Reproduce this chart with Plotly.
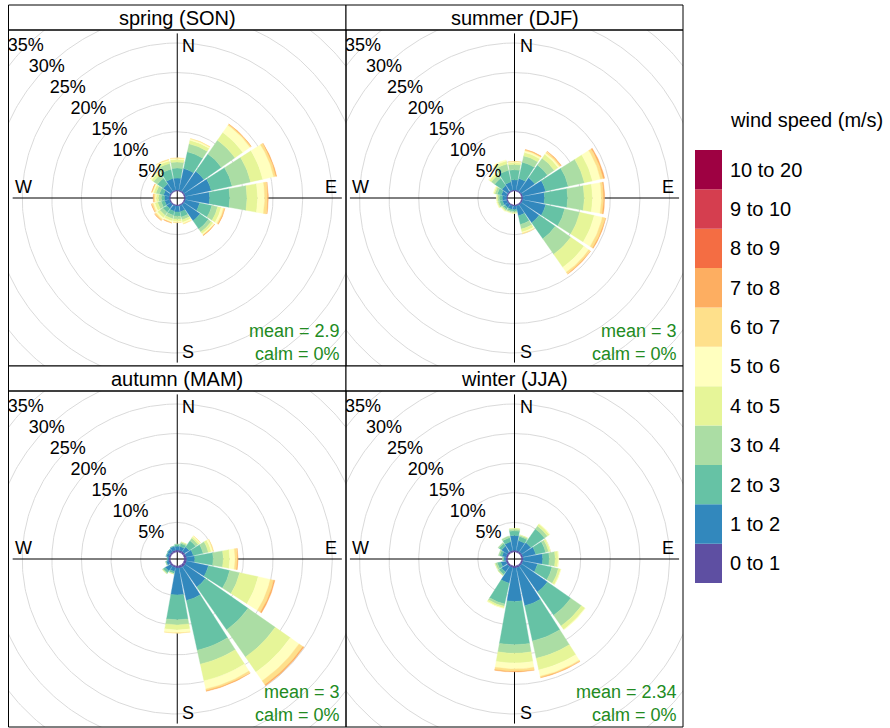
import numpy as np
import plotly.graph_objects as go

# ---------------- data ----------------
DIRECTIONS = [0, 22.5, 45, 67.5, 90, 112.5, 135, 157.5,
              180, 202.5, 225, 247.5, 270, 292.5, 315, 337.5]

SPEED_BANDS = ["0 to 1", "1 to 2", "2 to 3", "3 to 4", "4 to 5", "5 to 6",
               "6 to 7", "7 to 8", "8 to 9", "9 to 10", "10 to 20"]
BAND_COLOURS = ["#5E4FA2", "#3288BD", "#66C2A5", "#ABDDA4", "#E6F598", "#FFFFBF",
                "#FEE08B", "#FDAE61", "#F46D43", "#D53E4F", "#9E0142"]

PANEL_TITLES = ["spring (SON)", "summer (DJF)", "autumn (MAM)", "winter (JJA)"]
MEAN_SPEED = ["2.9", "3", "3", "2.34"]
CALM_PCT = ["0%", "0%", "0%", "0%"]
GRID_PCT = [5, 10, 15, 20, 25, 30, 35, 40]
LABEL_PCT = [5, 10, 15, 20, 25, 30, 35]

# frequency (%) per speed band (rows: 0-1 ... 7-8 m/s), per direction (cols)
SPRING = [
    [0.2, 0.2, 0.25, 0.25, 0.25, 0.25, 0.2, 0.2, 0.2, 0.2, 0.2, 0.2, 0.2, 0.2, 0.2, 0.2],
    [2.0, 3.7, 4.05, 4.45, 4.05, 2.45, 3.3, 1.0, 1.0, 0.9, 0.8, 0.8, 0.8, 1.0, 1.5, 2.0],
    [1.7, 2.9, 3.6, 3.6, 3.4, 2.1, 1.7, 0.9, 0.7, 0.7, 0.8, 0.6, 0.5, 0.7, 1.2, 1.6],
    [1.0, 1.4, 2.8, 3.2, 2.9, 1.0, 0.6, 0.5, 0.5, 0.6, 0.6, 0.6, 0.5, 0.6, 0.8, 1.0],
    [0.45, 0.6, 1.6, 2.1, 1.8, 0.6, 0.4, 0.4, 0.4, 0.4, 0.5, 0.5, 0.4, 0.4, 0.4, 0.4],
    [0.2, 0.25, 1.5, 1.9, 1.2, 0.4, 0.2, 0.2, 0.15, 0.2, 0.3, 0.3, 0.2, 0.2, 0.2, 0.2],
    [0.05, 0.05, 0.2, 0.4, 0.5, 0.2, 0.1, 0.1, 0.05, 0.1, 0.2, 0.2, 0.2, 0.1, 0.1, 0.1],
    [0, 0, 0.05, 0.1, 0.1, 0.05, 0.05, 0, 0, 0.05, 0.1, 0.1, 0.1, 0.05, 0, 0],
]
SUMMER = [
    [0.2, 0.2, 0.2, 0.25, 0.25, 0.25, 0.25, 0.2, 0.2, 0.2, 0.2, 0.2, 0.2, 0.2, 0.2, 0.2],
    [1.7, 2.0, 2.8, 3.95, 3.65, 3.95, 3.65, 1.7, 0.6, 0.6, 0.6, 0.7, 0.7, 0.9, 1.2, 1.4],
    [1.7, 2.8, 2.6, 3.9, 3.9, 3.3, 3.3, 1.5, 0.3, 0.3, 0.4, 0.5, 0.5, 0.7, 1.5, 2.0],
    [0.9, 1.1, 1.4, 2.8, 2.8, 2.6, 3.2, 0.8, 0.2, 0.2, 0.2, 0.3, 0.3, 0.4, 0.7, 1.1],
    [0.3, 0.6, 0.8, 1.4, 1.4, 2.5, 2.7, 0.5, 0.1, 0.1, 0.15, 0.15, 0.15, 0.2, 0.4, 0.5],
    [0.15, 0.3, 0.3, 1.4, 1.5, 1.4, 1.0, 0.2, 0.05, 0.05, 0.05, 0.05, 0.05, 0.1, 0.2, 0.2],
    [0.05, 0.15, 0.25, 0.5, 0.4, 0.5, 0.3, 0.1, 0, 0, 0, 0, 0, 0, 0, 0],
    [0, 0.05, 0.1, 0.2, 0.15, 0.1, 0.1, 0, 0, 0, 0, 0, 0, 0, 0, 0],
]
AUTUMN = [
    [0.35, 0.35, 0.35, 0.4, 0.45, 0.45, 0.45, 0.4, 0.35, 0.3, 0.3, 0.3, 0.3, 0.3, 0.3, 0.35],
    [0.65, 0.65, 0.95, 1.2, 1.35, 3.75, 4.15, 5.6, 4.55, 0.7, 1.0, 0.4, 0.2, 0.4, 0.5, 0.65],
    [0.3, 0.5, 1.3, 1.7, 3.1, 3.7, 8.8, 8.6, 4.2, 0.3, 0.4, 0.1, 0.05, 0.1, 0.1, 0.1],
    [0.05, 0.2, 0.5, 0.9, 1.7, 1.7, 5.6, 2.4, 0.85, 0.1, 0.15, 0.05, 0, 0, 0, 0],
    [0, 0.1, 0.3, 0.5, 1.1, 3.2, 3.1, 2.9, 0.85, 0.05, 0.05, 0, 0, 0, 0, 0],
    [0, 0, 0.15, 0.3, 0.9, 2.1, 1.8, 1.4, 0.5, 0, 0, 0, 0, 0, 0, 0],
    [0, 0, 0.05, 0.1, 0.4, 0.6, 0.8, 0.3, 0.05, 0, 0, 0, 0, 0, 0, 0],
    [0, 0, 0, 0, 0.1, 0.2, 0.2, 0.1, 0, 0, 0, 0, 0, 0, 0, 0],
]
WINTER = [
    [0.3, 0.3, 0.3, 0.3, 0.3, 0.3, 0.3, 0.35, 0.35, 0.3, 0.3, 0.3, 0.3, 0.3, 0.3, 0.3],
    [2.5, 1.7, 1.9, 2.2, 3.3, 2.5, 5.3, 6.55, 5.65, 2.7, 1.2, 0.9, 0.3, 0.7, 1.2, 1.5],
    [0.8, 0.7, 2.8, 1.7, 1.1, 2.5, 4.8, 6.1, 7.3, 3.6, 0.5, 0.6, 0.2, 0.4, 0.5, 0.7],
    [0.3, 0.2, 0.6, 0.5, 1.0, 1.1, 2.2, 3.0, 1.45, 0.4, 0.2, 0.3, 0.05, 0.2, 0.2, 0.3],
    [0.1, 0.1, 0.4, 0.3, 0.5, 0.4, 0.7, 2.0, 1.65, 0.3, 0.05, 0.1, 0, 0, 0, 0],
    [0, 0, 0.1, 0.05, 0.1, 0.05, 0.1, 1.1, 1.0, 0.05, 0, 0, 0, 0, 0, 0],
    [0, 0, 0, 0, 0, 0, 0, 0.2, 0.4, 0, 0, 0, 0, 0, 0, 0],
    [0, 0, 0, 0, 0, 0, 0, 0.05, 0.1, 0, 0, 0, 0, 0, 0, 0],
]
SEASON_DATA = [SPRING, SUMMER, AUTUMN, WINTER]

# ---------------- layout constants ----------------
W, H = 890, 728
PX_PER_PCT = 5.92
HOLE = 7 / PX_PER_PCT
SEG = 0.9
SECTOR = 22.5
AXIS_LEN = 27.8
LABEL_R = 26.0
FONT = "Liberation Sans, Arial, sans-serif"
# plot-area boxes (left, right, top, bottom) in pixels
PANELS_PX = [(8.5, 346, 30, 366), (346, 683, 30, 366),
             (8.5, 346, 391, 727), (346, 683, 391, 727)]
STRIP_H = 25


def px2x(px):
    return px / W


def px2y(py):
    return 1 - py / H


fig = go.Figure()
layout_axes = {}
shapes = []
annotations = []

theta_circle = np.linspace(0, 2 * np.pi, 361)

for k, (season, box) in enumerate(zip(SEASON_DATA, PANELS_PX)):
    x0, x1, y0, y1 = box
    suffix = "" if k == 0 else str(k + 1)
    xa, ya = "x" + suffix, "y" + suffix
    half_w = (x1 - x0) / 2 / PX_PER_PCT
    half_h = (y1 - y0) / 2 / PX_PER_PCT
    layout_axes["xaxis" + suffix] = dict(
        domain=[px2x(x0), px2x(x1)], range=[-half_w, half_w], visible=False,
        fixedrange=True, anchor=ya)
    layout_axes["yaxis" + suffix] = dict(
        domain=[px2y(y1), px2y(y0)], range=[-half_h, half_h], visible=False,
        fixedrange=True, anchor=xa)

    # grid circles
    gx, gy = [], []
    for p in GRID_PCT:
        r = HOLE + p
        gx += list(r * np.sin(theta_circle)) + [None]
        gy += list(r * np.cos(theta_circle)) + [None]
    fig.add_trace(go.Scatter(x=gx, y=gy, mode="lines", xaxis=xa, yaxis=ya,
                             line=dict(color="#DADADA", width=1),
                             hoverinfo="skip", showlegend=False))
    # axes cross
    fig.add_trace(go.Scatter(x=[-AXIS_LEN, AXIS_LEN, None, 0, 0],
                             y=[0, 0, None, -AXIS_LEN, AXIS_LEN],
                             mode="lines", xaxis=xa, yaxis=ya,
                             line=dict(color="black", width=1),
                             hoverinfo="skip", showlegend=False))

    # wedges
    bands = np.array(season, dtype=float)
    cum = np.vstack([np.zeros(len(DIRECTIONS)), np.cumsum(bands, axis=0)])
    half = SECTOR * SEG / 2
    for j in range(bands.shape[0]):
        wx, wy = [], []
        for i, d in enumerate(DIRECTIONS):
            if bands[j, i] <= 0:
                continue
            r_in = HOLE + cum[j, i]
            r_out = HOLE + cum[j + 1, i]
            a = np.radians(np.linspace(d - half, d + half, 16))
            xs = list(r_out * np.sin(a)) + list(r_in * np.sin(a[::-1]))
            ys = list(r_out * np.cos(a)) + list(r_in * np.cos(a[::-1]))
            wx += xs + [xs[0], None]
            wy += ys + [ys[0], None]
        if wx:
            fig.add_trace(go.Scatter(x=wx, y=wy, mode="lines", fill="toself",
                                     fillcolor=BAND_COLOURS[j], xaxis=xa, yaxis=ya,
                                     line=dict(color=BAND_COLOURS[j], width=0.4),
                                     hoverinfo="skip", showlegend=False))

    # percentage labels along 315 degrees
    ang = np.radians(315)
    fig.add_trace(go.Scatter(
        x=[(HOLE + p) * np.sin(ang) for p in LABEL_PCT],
        y=[(HOLE + p) * np.cos(ang) for p in LABEL_PCT],
        text=[f"{p}%" for p in LABEL_PCT], mode="text", cliponaxis=True,
        textposition="middle center", xaxis=xa, yaxis=ya,
        textfont=dict(family=FONT, size=18, color="black"),
        hoverinfo="skip", showlegend=False))

    # compass labels
    lab_font = dict(family=FONT, size=18, color="black")
    annotations += [
        dict(x=0, y=LABEL_R - 0.3, xref=xa, yref=ya, text="N", showarrow=False,
             xanchor="left", yanchor="middle", xshift=3, font=lab_font),
        dict(x=0, y=-LABEL_R, xref=xa, yref=ya, text="S", showarrow=False,
             xanchor="left", yanchor="middle", xshift=3, font=lab_font),
        dict(x=LABEL_R, y=0, xref=xa, yref=ya, text="E", showarrow=False,
             xanchor="center", yanchor="bottom", yshift=-1, font=lab_font),
        dict(x=-LABEL_R, y=0, xref=xa, yref=ya, text="W", showarrow=False,
             xanchor="center", yanchor="bottom", yshift=-1, font=lab_font),
    ]

    # mean / calm
    green = dict(family=FONT, size=18, color="#228B22")
    annotations += [
        dict(x=px2x(x1 - 4), y=px2y(y1 - 35), xref="paper", yref="paper",
             text=f"mean = {MEAN_SPEED[k]}", showarrow=False,
             xanchor="right", yanchor="middle", font=green),
        dict(x=px2x(x1 - 4), y=px2y(y1 - 12), xref="paper", yref="paper",
             text=f"calm = {CALM_PCT[k]}", showarrow=False,
             xanchor="right", yanchor="middle", font=green),
    ]

    # strip + border
    shapes.append(dict(type="rect", xref="paper", yref="paper",
                       x0=px2x(x0), x1=px2x(x1), y0=px2y(y0), y1=px2y(y0 - STRIP_H),
                       line=dict(color="black", width=1), fillcolor="white", layer="above"))
    shapes.append(dict(type="rect", xref="paper", yref="paper",
                       x0=px2x(x0), x1=px2x(x1), y0=px2y(y1), y1=px2y(y0),
                       line=dict(color="black", width=1), fillcolor="rgba(0,0,0,0)",
                       layer="above"))
    annotations.append(dict(x=px2x((x0 + x1) / 2), y=px2y(y0 - STRIP_H / 2),
                            xref="paper", yref="paper", text=PANEL_TITLES[k],
                            showarrow=False, xanchor="center", yanchor="middle",
                            font=dict(family=FONT, size=20, color="black")))

# ---------------- key ----------------
KEY_X0, KEY_X1, KEY_Y0, KEY_Y1 = 695, 722, 150, 583
n_keys = len(SPEED_BANDS)
layout_axes["xaxis5"] = dict(domain=[px2x(KEY_X0), px2x(KEY_X1)], range=[-0.5, 0.5],
                             visible=False, fixedrange=True, anchor="y5")
layout_axes["yaxis5"] = dict(domain=[px2y(KEY_Y1), px2y(KEY_Y0)], range=[0, n_keys],
                             visible=False, fixedrange=True, anchor="x5")
fig.add_trace(go.Bar(x=[0] * n_keys, y=[1] * n_keys, base=list(range(n_keys)),
                     width=1, marker=dict(color=BAND_COLOURS, line=dict(width=0)),
                     xaxis="x5", yaxis="y5", hoverinfo="skip", showlegend=False))
for i, lab in enumerate(SPEED_BANDS):
    annotations.append(dict(x=px2x(KEY_X1 + 6), y=i + 0.5, xref="paper", yref="y5",
                            text=lab, showarrow=False, xanchor="left", yanchor="middle",
                            font=dict(family=FONT, size=20, color="black")))
annotations.append(dict(x=px2x(728), y=px2y(120), xref="paper", yref="paper",
                        text="wind speed (m/s)", showarrow=False, xanchor="left",
                        yanchor="middle", font=dict(family=FONT, size=20, color="black")))

fig.update_layout(
    width=W, height=H, margin=dict(l=0, r=0, t=0, b=0),
    paper_bgcolor="white", plot_bgcolor="white",
    shapes=shapes, annotations=annotations, barmode="overlay",
    showlegend=False, **layout_axes)

fig.write_html("out.html", config={"displayModeBar": False},
               post_script="document.body.style.margin='0';"
                           "document.body.style.overflow='hidden';")
